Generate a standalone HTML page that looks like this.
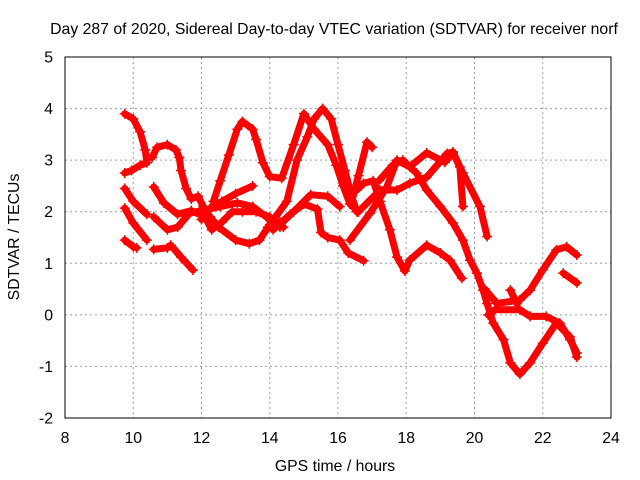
<!DOCTYPE html>
<html><head><meta charset="utf-8"><style>
html,body{margin:0;padding:0;background:#fff;}
svg{display:block;font-family:"Liberation Sans",sans-serif;}
</style></head><body>
<svg id="chart" width="640" height="480" viewBox="0 0 640 480">
<rect x="0" y="0" width="640" height="480" fill="#fff"/>
<g id="grid"></g>
<g id="series"></g>
<rect x="65" y="57" width="546" height="361" fill="none" stroke="#000" stroke-width="1"/>
<g id="ticks"></g>
<text x="334" y="34" text-anchor="middle" font-size="15.8">Day 287 of 2020, Sidereal Day-to-day VTEC variation (SDTVAR) for receiver norf</text>
<text x="335" y="471" text-anchor="middle" font-size="15.8">GPS time / hours</text>
<text transform="translate(19,237) rotate(-90)" text-anchor="middle" font-size="15.8">SDTVAR / TECUs</text>
</svg>
<script>
const xTicks = [8,10,12,14,16,18,20,22,24];
const yTicks = [-2,-1,0,1,2,3,4,5];
const trackA = [[9.75,3.9],[10.0,3.8],[10.2,3.55],[10.35,3.2],[10.4,2.95],[10.2,2.9],[9.95,2.8],[9.75,2.75]];
const trackB = [[10.55,3.05],[10.7,3.25],[11.0,3.3],[11.25,3.2],[11.35,3.05],[11.4,2.8],[11.55,2.45],[11.7,2.25],[11.9,2.3],[12.05,2.1],[12.25,1.9],[12.5,1.7],[13.0,1.45],[13.4,1.38],[13.7,1.45],[13.95,1.7],[14.3,1.8]];
const trackD = [[12.35,2.2],[12.55,2.6],[12.8,3.1],[13.05,3.6],[13.2,3.75],[13.5,3.6],[13.6,3.4],[13.8,2.95],[14.0,2.68],[14.35,2.65],[14.7,3.3],[15.0,3.9],[15.3,3.6],[15.7,3.3],[15.95,2.9],[16.15,2.5],[16.35,2.15],[16.6,2.0]];
const trackE = [[13.95,1.7],[14.5,2.2],[14.8,3.0],[15.1,3.45],[15.3,3.8],[15.55,4.0],[15.8,3.8],[16.0,3.3],[16.2,2.8],[16.4,2.3],[16.55,2.0]];
const trackF = [[16.4,2.2],[16.6,2.7],[16.85,3.35],[17.0,3.25]];
const trackG1 = [[16.35,1.45],[16.94,1.97],[17.43,2.48],[17.73,3.0],[18.1,2.87],[18.6,3.14],[19.13,2.96],[19.37,3.14],[19.66,2.75],[20.16,2.1],[20.37,1.52]];
const trackG2 = [[16.6,2.0],[17.23,2.42],[17.73,2.42],[18.1,2.55],[18.6,2.67],[19.2,3.13],[19.37,3.16],[19.57,2.87],[19.66,2.1]];
const trackG3 = [[17.2,2.6],[17.6,2.9],[17.9,3.0],[18.3,2.75],[18.6,2.42],[19.0,2.1],[19.37,1.78],[19.66,1.45],[19.87,1.06],[20.07,0.81],[20.25,0.48],[20.37,0.22],[20.55,-0.16],[20.85,-0.48],[21.05,-0.93],[21.33,-1.15],[21.63,-0.93],[22.0,-0.55],[22.4,-0.16],[22.8,-0.43],[23.0,-0.82]];
const trackG4 = [[16.55,2.42],[16.75,2.55],[17.03,2.6],[17.23,2.2],[17.52,1.65],[17.73,1.12],[17.96,0.85],[18.1,1.06],[18.6,1.35],[19.0,1.2],[19.28,1.06],[19.63,0.71]];
const trackH = [[20.3,0.5],[20.66,0.22],[21.33,0.29],[21.63,0.48],[22.0,0.87],[22.4,1.26],[22.7,1.32],[23.0,1.16]];
const trackH2 = [[20.4,0.0],[20.6,0.1],[21.33,0.1],[21.63,-0.03],[22.1,-0.03],[22.5,-0.16],[22.8,-0.48],[23.0,-0.74]];
const trackH3 = [[21.05,0.48],[21.24,0.22]];
const trackH4 = [[22.6,0.81],[23.0,0.62]];
const trackL1 = [[9.75,2.45],[10.0,2.2],[10.4,1.95]];
const trackL2 = [[9.75,2.07],[10.0,1.78],[10.4,1.45]];
const trackL3 = [[9.75,1.45],[10.0,1.32],[10.1,1.3]];
const trackL4 = [[10.6,1.27],[11.0,1.3],[11.1,1.35],[11.4,1.12],[11.75,0.87]];
const trackL5 = [[10.6,1.9],[11.0,1.65],[11.3,1.7],[11.65,1.97],[12.05,2.03],[12.55,2.1],[13.05,2.17],[13.5,2.1],[13.9,1.9],[14.3,1.7]];
const trackL6 = [[10.6,2.48],[10.9,2.17],[11.3,1.95],[11.7,2.02],[12.1,1.9],[12.3,1.65],[12.6,1.8],[12.9,2.0],[13.2,2.0],[13.6,2.0],[14.0,1.9],[14.4,1.7]];
const trackL7 = [[12.0,1.85],[12.3,2.1],[12.6,2.2],[13.0,2.35],[13.5,2.5]];
const trackM = [[14.0,1.75],[14.3,1.75],[14.7,2.0],[15.2,2.33],[15.7,2.3],[16.05,2.1]];
const trackN = [[14.1,1.65],[14.6,1.95],[15.0,2.15],[15.4,2.05],[15.5,1.6],[15.7,1.5],[16.05,1.45],[16.3,1.2],[16.75,1.05]];
const tracks = [trackA,trackB,trackD,trackE,trackF,trackG1,trackG2,trackG3,trackG4,trackH,trackH2,trackH3,trackH4,trackL1,trackL2,trackL3,trackL4,trackL5,trackL6,trackL7,trackM,trackN];

const NS = 'http://www.w3.org/2000/svg';
const X0=65, X1=611, Y0=418, Y1=57;
function sx(v){ return X0 + (v-8)/(24-8)*(X1-X0); }
function sy(v){ return Y0 - (v+2)/(5+2)*(Y0-Y1); }
const grid = document.getElementById('grid');
const ticks = document.getElementById('ticks');
xTicks.forEach(t=>{
  const x = sx(t);
  if(t>8 && t<24){
    const g = document.createElementNS(NS,'line');
    g.setAttribute('x1',x);g.setAttribute('x2',x);g.setAttribute('y1',Y1);g.setAttribute('y2',Y0);
    g.setAttribute('stroke','#a0a0a0');g.setAttribute('stroke-dasharray','2,3');
    
    
    grid.appendChild(g);
  }
  const lb = document.createElementNS(NS,'text');
  lb.setAttribute('x',x);lb.setAttribute('y',443);lb.setAttribute('text-anchor','middle');lb.setAttribute('font-size','15.8');
  lb.textContent = t;
  
  
  ticks.appendChild(lb);
});
yTicks.forEach(t=>{
  const y = sy(t);
  if(t>-2 && t<5){
    const g = document.createElementNS(NS,'line');
    g.setAttribute('x1',X0);g.setAttribute('x2',X1);g.setAttribute('y1',y);g.setAttribute('y2',y);
    g.setAttribute('stroke','#a0a0a0');g.setAttribute('stroke-dasharray','2,3');
    
    
    grid.appendChild(g);
  }
  const lb = document.createElementNS(NS,'text');
  lb.setAttribute('x',53);lb.setAttribute('y',y+5.5);lb.setAttribute('text-anchor','end');lb.setAttribute('font-size','15.8');
  lb.textContent = t;
  
  
  ticks.appendChild(lb);
});
const series = document.getElementById('series');
tracks.forEach(tr=>{
  const pl = document.createElementNS(NS,'polyline');
  pl.setAttribute('points', tr.map(p=>sx(p[0])+','+sy(p[1])).join(' '));
  pl.setAttribute('fill','none');pl.setAttribute('stroke','#ff0000');pl.setAttribute('stroke-width','7');
  pl.setAttribute('stroke-linejoin','round');pl.setAttribute('stroke-linecap','round');
  
  
  series.appendChild(pl);
  tr.forEach(p=>{
    const m = document.createElementNS(NS,'path');
    const x=sx(p[0]), y=sy(p[1]);
    m.setAttribute('d',`M${x-5},${y}H${x+5}M${x},${y-5}V${y+5}`);
    m.setAttribute('stroke','#ff0000');m.setAttribute('stroke-width','1.5');
    
    
    series.appendChild(m);
  });
});
</script>
</body></html>
